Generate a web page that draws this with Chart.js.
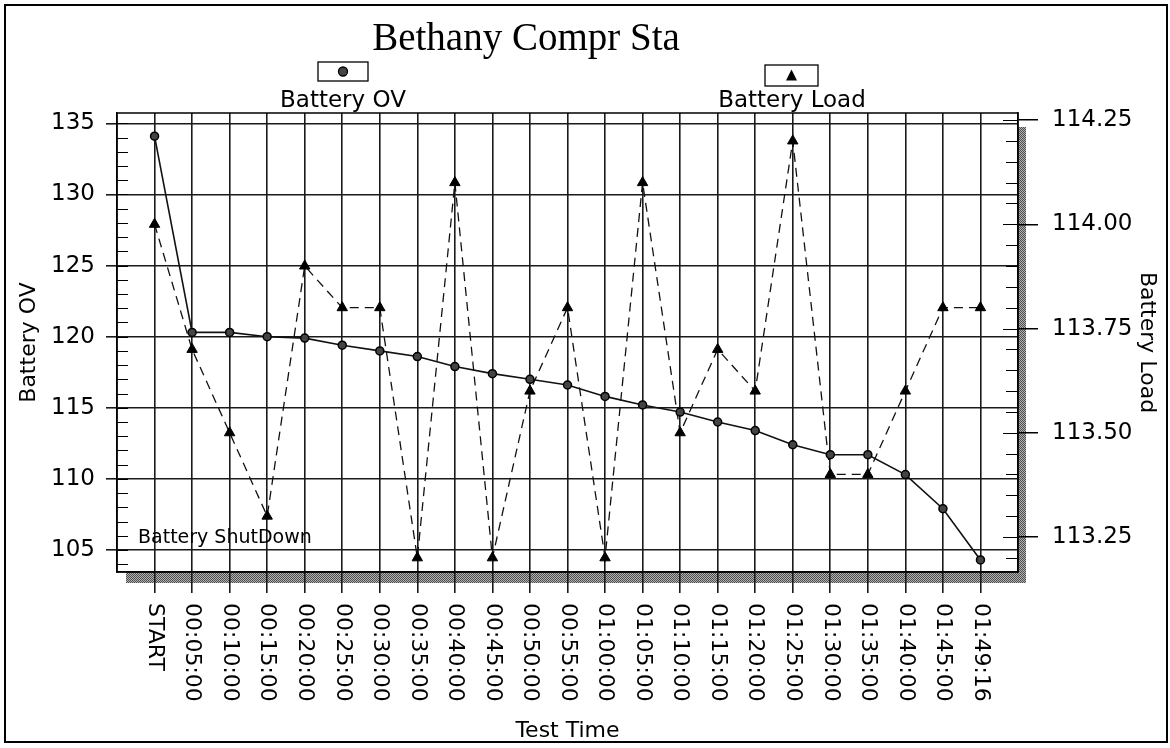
<!DOCTYPE html>
<html>
<head>
<meta charset="utf-8">
<title>Bethany Compr Sta</title>
<script src="https://cdn.jsdelivr.net/npm/chart.js@4.4.1/dist/chart.umd.min.js"></script>
<style>
  html, body { margin: 0; padding: 0; background: #fff; }
  canvas { display: block; }
</style>
</head>
<body>
<canvas id="batteryChart" width="1170" height="748"></canvas>
<script>
const chartTitle = "Bethany Compr Sta";

const testTimes = [
  "START", "00:05:00", "00:10:00", "00:15:00", "00:20:00", "00:25:00",
  "00:30:00", "00:35:00", "00:40:00", "00:45:00", "00:50:00", "00:55:00",
  "01:00:00", "01:05:00", "01:10:00", "01:15:00", "01:20:00", "01:25:00",
  "01:30:00", "01:35:00", "01:40:00", "01:45:00", "01:49:16"
];

const batteryOV = [
  134.1, 120.3, 120.3, 120.0, 119.9, 119.4, 119.0, 118.6, 117.9, 117.4, 117.0, 116.6,
  115.8, 115.2, 114.7, 114.0, 113.4, 112.4, 111.7, 111.7, 110.3, 107.9, 104.3
];

const batteryLoad = [
  114.0, 113.7, 113.5, 113.3, 113.9, 113.8, 113.8, 113.2, 114.1, 113.2, 113.6, 113.8,
  113.2, 114.1, 113.5, 113.7, 113.6, 114.2, 113.4, 113.4, 113.6, 113.8, 113.8
];

const ovTicks = [105, 110, 115, 120, 125, 130, 135];
const loadTicks = [113.25, 113.5, 113.75, 114.0, 114.25];
const shutdownLevel = 105;
const shutdownLabel = "Battery ShutDown";

const sansFont = "DejaVu Sans";

// checkered grey used for the drop shadow
const makeShadowPattern = (ctx) => {
  const c = document.createElement("canvas");
  c.width = 2;
  c.height = 2;
  const p = c.getContext("2d");
  p.fillStyle = "#b0b0b0";
  p.fillRect(0, 0, 2, 2);
  p.fillStyle = "#505050";
  p.fillRect(0, 0, 1, 1);
  p.fillRect(1, 1, 1, 1);
  return ctx.createPattern(c, "repeat");
};

const decorPlugin = {
  id: "decor",
  beforeDraw(chart) {
    const { ctx, chartArea: a } = chart;
    ctx.save();
    ctx.fillStyle = "#fff";
    ctx.fillRect(0, 0, chart.width, chart.height);

    // outer frame
    ctx.strokeStyle = "#000";
    ctx.lineWidth = 2;
    ctx.strokeRect(5, 5, chart.width - 8, chart.height - 11);

    // shadow behind the plot
    ctx.fillStyle = makeShadowPattern(ctx);
    ctx.fillRect(a.left + 9, a.top + 14, a.right - a.left - 1, a.bottom - a.top - 3);
    ctx.fillStyle = "#fff";
    ctx.fillRect(a.left, a.top, a.right - a.left, a.bottom - a.top);
    ctx.restore();
  },
  afterDraw(chart) {
    const { ctx, chartArea: a } = chart;
    const xs = chart.scales.x;
    const ys = chart.scales.y;
    const y1 = chart.scales.y1;
    ctx.save();

    // plot border
    ctx.strokeStyle = "#000";
    ctx.lineWidth = 1.5;
    ctx.strokeRect(a.left, a.top, a.right - a.left, a.bottom - a.top);

    // minor ticks, left axis
    ctx.lineWidth = 1;
    ctx.beginPath();
    for (let v = Math.ceil(ys.min); v <= ys.max; v++) {
      const py = Math.round(ys.getPixelForValue(v)) + 0.5;
      ctx.moveTo(a.left, py);
      ctx.lineTo(a.left + 11, py);
    }
    // minor ticks, right axis
    for (let k = Math.ceil(y1.min * 20); k <= y1.max * 20; k++) {
      const py = Math.round(y1.getPixelForValue(k / 20)) + 0.5;
      const len = k % 5 === 0 ? 15 : 12;
      ctx.moveTo(a.right - len, py);
      ctx.lineTo(a.right, py);
    }
    ctx.stroke();

    // category labels, reading downwards
    ctx.fillStyle = "#000";
    ctx.font = "22px '" + sansFont + "'";
    ctx.textAlign = "left";
    ctx.textBaseline = "middle";
    testTimes.forEach((label, i) => {
      ctx.save();
      ctx.translate(xs.getPixelForValue(i), a.bottom + 31);
      ctx.rotate(Math.PI / 2);
      ctx.fillText(label, 0, 0);
      ctx.restore();
    });

    // shutdown note
    ctx.font = "19px '" + sansFont + "'";
    ctx.textBaseline = "bottom";
    ctx.fillText(shutdownLabel, a.left + 21, ys.getPixelForValue(shutdownLevel) - 2);

    // title
    ctx.font = "39px 'Liberation Serif'";
    ctx.textAlign = "center";
    ctx.textBaseline = "alphabetic";
    ctx.fillText(chartTitle, 526, 50);

    // legend boxes
    const legendItems = [
      { text: chart.data.datasets[0].label, box: [318, 62, 50, 19], cx: 343 },
      { text: chart.data.datasets[1].label, box: [765, 65, 53, 21], cx: 792 },
    ];
    ctx.lineWidth = 1.3;
    legendItems.forEach((it, i) => {
      const [bx, by, bw, bh] = it.box;
      ctx.strokeStyle = "#000";
      ctx.strokeRect(bx, by, bw, bh);
      const my = by + bh / 2;
      if (i === 0) {
        ctx.beginPath();
        ctx.arc(bx + bw / 2, my, 4.5, 0, Math.PI * 2);
        ctx.fillStyle = "#444";
        ctx.fill();
        ctx.stroke();
      } else {
        ctx.beginPath();
        ctx.moveTo(bx + bw / 2, my - 6);
        ctx.lineTo(bx + bw / 2 + 5.5, my + 5);
        ctx.lineTo(bx + bw / 2 - 5.5, my + 5);
        ctx.closePath();
        ctx.fillStyle = "#000";
        ctx.fill();
      }
      ctx.fillStyle = "#000";
      ctx.font = "23px '" + sansFont + "'";
      ctx.textAlign = "center";
      ctx.textBaseline = "middle";
      ctx.fillText(it.text, it.cx, 101);
    });

    ctx.restore();
  },
};

const axisFont = { family: sansFont, size: 23 };
const titleFont = { family: sansFont, size: 22 };

const ctx = document.getElementById("batteryChart").getContext("2d");

const batteryChart = new Chart(ctx, {
  type: "line",
  data: {
    datasets: [
      {
        label: "Battery OV",
        data: batteryOV.map((v, i) => ({ x: i, y: v })),
        yAxisID: "y",
        borderColor: "#111",
        borderWidth: 1.6,
        pointStyle: "circle",
        pointRadius: 4,
        pointBackgroundColor: "#444",
        pointBorderColor: "#000",
        pointBorderWidth: 1.5,
        tension: 0,
        clip: false,
      },
      {
        label: "Battery Load",
        data: batteryLoad.map((v, i) => ({ x: i, y: v })),
        yAxisID: "y1",
        borderColor: "#111",
        borderWidth: 1.3,
        borderDash: [9, 6],
        pointStyle: "triangle",
        pointRadius: 6,
        pointBackgroundColor: "#000",
        pointBorderColor: "#000",
        pointBorderWidth: 1,
        tension: 0,
        clip: false,
      },
    ],
  },
  options: {
    responsive: false,
    animation: false,
    devicePixelRatio: 1,
    layout: { padding: { top: 113, left: 0, right: 0, bottom: 0 } },
    plugins: {
      legend: { display: false },
      title: { display: false },
      tooltip: { enabled: false },
    },
    scales: {
      x: {
        type: "linear",
        min: -1,
        max: testTimes.length,
        afterFit: (s) => { s.height = 176; },
        afterBuildTicks: (s) => {
          const t = [];
          for (let i = -1; i <= testTimes.length; i++) t.push({ value: i });
          s.ticks = t;
        },
        ticks: { display: false, autoSkip: false },
        grid: {
          color: (c) => (c.tick && c.tick.value >= 0 && c.tick.value < testTimes.length ? "#1a1a1a" : "rgba(0,0,0,0)"),
          lineWidth: 1.6,
          tickLength: 21,
        },
        border: { display: true, color: "#000", width: 1.5 },
        title: {
          display: true,
          text: "Test Time",
          color: "#000",
          font: titleFont,
          padding: { top: 0, bottom: 4 },
        },
      },
      y: {
        position: "left",
        min: 103.45,
        max: 135.73,
        afterFit: (s) => { s.width = 117; },
        afterBuildTicks: (s) => { s.ticks = ovTicks.map((v) => ({ value: v })); },
        ticks: { color: "#000", font: axisFont, padding: 11 },
        grid: { color: "#1a1a1a", lineWidth: 1.6, tickLength: 11 },
        border: { display: true, color: "#000", width: 1.5 },
        title: {
          display: true,
          text: "Battery OV",
          color: "#000",
          font: titleFont,
          padding: { top: 16, bottom: 0 },
        },
      },
      y1: {
        position: "right",
        min: 113.166,
        max: 114.267,
        afterFit: (s) => { s.width = 152; },
        afterBuildTicks: (s) => { s.ticks = loadTicks.map((v) => ({ value: v })); },
        ticks: {
          color: "#000",
          font: axisFont,
          padding: 14,
          callback: (v) => Number(v).toFixed(2),
        },
        grid: { drawOnChartArea: false, color: "#000", lineWidth: 1.5, tickLength: 20 },
        border: { display: true, color: "#000", width: 1.5 },
        title: {
          display: true,
          text: "Battery Load",
          color: "#000",
          font: titleFont,
          padding: { top: 10, bottom: 0 },
        },
      },
    },
  },
  plugins: [decorPlugin],
});
</script>
</body>
</html>
